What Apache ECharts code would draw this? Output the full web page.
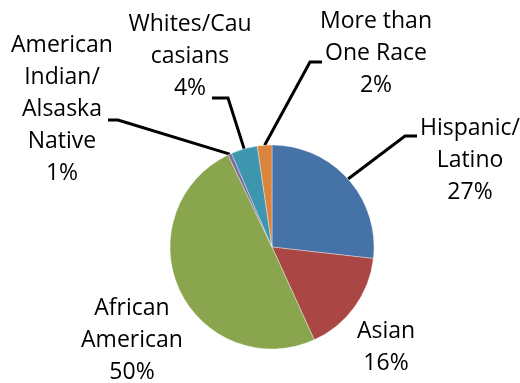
<!DOCTYPE html>
<html>
<head>
<meta charset="utf-8">
<script src="https://cdn.jsdelivr.net/npm/echarts@6/dist/echarts.min.js"></script>
<style>html,body{margin:0;padding:0;background:#fff}#c{width:520px;height:383px}</style>
</head>
<body>
<div id="c"></div>
<script>
// Data
var categories = ['Hispanic/\nLatino', 'Asian', 'African\nAmerican', 'American\nIndian/\nAlsaska\nNative', 'Whites/Cau\ncasians', 'More than\nOne Race'];
var values = [26.8, 16.4, 49.7, 0.6, 4.2, 2.3];
var colors = ['#4572A7', '#AA4643', '#89A54E', '#80699B', '#3D96AE', '#DB843D'];

// Label placement (styling only): label centre, and leader elbow / end
var labelStyle = [
  {x: 470, y: 160, line: true, elbow: [405, 136], end: [417, 136]},
  {x: 386, y: 347, line: false},
  {x: 132, y: 340, line: false},
  {x: 62, y: 109, line: true, elbow: [118, 120], end: [108, 120]},
  {x: 190, y: 56, line: true, elbow: [228, 98], end: [212, 98]},
  {x: 376, y: 53, line: true, elbow: [310, 62], end: [322, 62]}
];

var data = categories.map(function (c, i) {
  return {name: c, value: values[i], itemStyle: {color: colors[i]}, labelLine: {show: labelStyle[i].line}};
});

var chart = echarts.init(document.getElementById('c'), null, {renderer: 'canvas'});
chart.setOption({
  animation: false,
  backgroundColor: '#fff',
  series: [{
    type: 'pie',
    center: [272, 247],
    radius: [0, 102],
    startAngle: 90,
    clockwise: true,
    data: data,
    itemStyle: {borderColor: 'rgba(255,255,255,0.6)', borderWidth: 0.6},
    label: {
      show: true,
      position: 'outside',
      color: '#000',
      fontFamily: 'Open Sans',
      fontSize: 23,
      lineHeight: 32,
      align: 'center',
      formatter: function (p) { return p.name + '\n' + Math.round(p.percent) + '%'; }
    },
    labelLine: {show: true, length: 10, length2: 10, smooth: false, lineStyle: {color: '#000', width: 3}},
    labelLayout: function (p) {
      var s = labelStyle[p.dataIndex];
      var o = {x: s.x, y: s.y, align: 'center', verticalAlign: 'middle'};
      if (s.line && p.labelLinePoints) {
        o.labelLinePoints = [p.labelLinePoints[0], s.elbow, s.end];
      }
      return o;
    }
  }]
});
</script>
</body>
</html>
